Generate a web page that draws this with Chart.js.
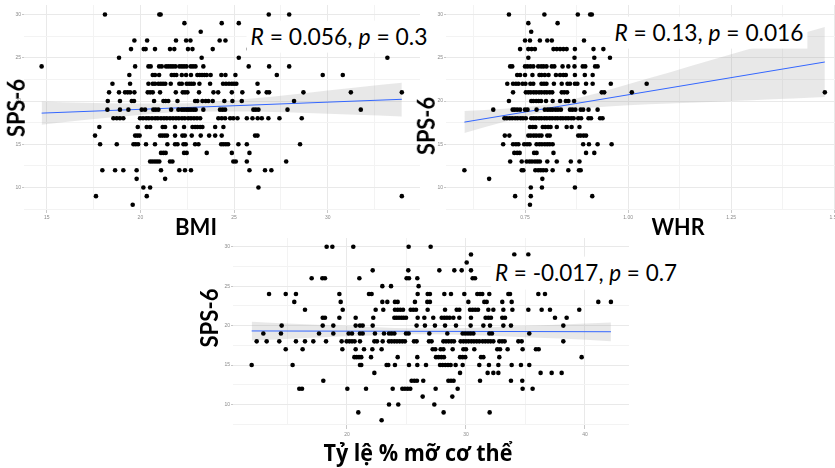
<!DOCTYPE html>
<html><head><meta charset="utf-8">
<script src="https://cdn.jsdelivr.net/npm/chart.js@4.4.1/dist/chart.umd.min.js"></script>
<style>
html,body{margin:0;padding:0;background:#fff;width:835px;height:468px;overflow:hidden;position:relative}
canvas{position:absolute}
.lbl{position:absolute;white-space:nowrap;line-height:1;color:#000}
.ax{font-family:Lato,"Open Sans",sans-serif;font-weight:700}
.vi{font-family:"Open Sans","Noto Sans",sans-serif;font-weight:700}
.rt{font-family:Lato,"Open Sans",sans-serif;font-weight:400;background:#fff;padding:5px 4px}
</style></head><body>
<canvas id="c1"></canvas>
<canvas id="c2"></canvas>
<canvas id="c3"></canvas>
<div class="lbl ax" id="s1"><span>SPS-6</span></div>
<div class="lbl ax" id="s2"><span>SPS-6</span></div>
<div class="lbl ax" id="s3"><span>SPS-6</span></div>
<div class="lbl ax" id="xb"><span>BMI</span></div>
<div class="lbl ax" id="xw"><span>WHR</span></div>
<div class="lbl vi" id="xf"><span>Tỷ lệ % mỡ cơ thể</span></div>
<div class="lbl rt" id="r1"><span><i>R</i> = 0.056, <i>p</i> = 0.3</span></div>
<div class="lbl rt" id="r2"><span><i>R</i> = 0.13, <i>p</i> = 0.016</span></div>
<div class="lbl rt" id="r3"><span><i>R</i> = -0.017, <i>p</i> = 0.7</span></div>
<script>
// SPS-6 score levels (y), one row of x values per level
const spsLevels = [30,29,28,27,26,25,24,23,22,21,20,19,18,17,16,15,14,13,12,11,10,9,8];

const bmiByLevel = [
 [18.11,21.01,21.08,26.85,27.94],
 [22.35,24.34,25.25],
 [23.22],
 [19.68,20.36,21.90,22.44,22.67,24.23,24.54],
 [19.50,20.18,20.28,20.78,21.58,21.81,22.54,22.78,23.86,25.77],
 [18.86,23.27,25.25,33.18],
 [14.73,19.72,20.43,20.55,21.00,21.14,21.37,21.49,21.62,21.74,21.87,22.08,22.21,22.33,22.46,22.69,22.81,22.94,23.36,25.78,26.87,27.94],
 [19.41,20.66,20.78,21.00,21.67,21.80,21.92,22.21,22.44,22.70,23.04,23.17,23.29,23.42,23.54,23.75,24.32,24.54,25.07,27.28,29.73,30.80],
 [18.51,19.45,20.43,20.66,20.78,20.96,21.09,21.21,21.33,21.62,22.08,22.21,22.47,22.60,22.72,22.85,23.15,23.72,24.41,24.57,24.73,24.88,25.00,25.12,26.25],
 [18.33,18.86,19.18,19.32,19.45,19.68,20.39,20.52,20.66,21.05,21.89,22.26,22.38,22.51,23.13,23.90,24.15,24.88,25.44,26.30,26.74,26.87,28.70,31.23,33.95],
 [18.26,18.91,19.54,19.66,20.73,21.23,21.35,21.49,21.98,22.92,23.04,23.31,23.49,23.63,23.86,24.48,24.91,25.41,28.20],
 [18.24,18.91,19.36,20.07,20.25,20.69,20.82,20.96,21.64,22.03,22.21,22.33,22.46,22.58,22.70,22.83,22.95,23.36,24.25,24.39,24.52,26.03,26.16,26.30,27.85,31.76],
 [18.56,18.74,18.91,19.09,19.98,20.14,20.31,20.45,20.62,20.79,20.93,21.10,21.26,21.41,21.58,21.74,21.90,22.05,22.22,22.37,22.55,22.70,22.86,23.02,23.19,24.16,24.34,24.52,24.79,24.96,25.18,25.68,25.98,26.26,26.48,26.83,27.42,28.61],
 [17.81,19.86,20.34,20.52,21.19,21.32,21.85,22.33,22.78,22.92,23.04,23.19,23.31,23.99,24.43],
 [17.58,19.72,19.84,19.96,21.05,21.17,21.30,21.42,21.85,22.24,22.37,22.74,23.22,23.67,23.99,24.34,26.12,26.25],
 [17.85,18.74,19.63,19.75,19.88,20.30,20.78,21.44,21.85,21.98,22.30,22.42,22.92,23.10,24.31,24.43,24.56,24.68,25.23,25.68,28.52],
 [21.10,21.23,21.35,22.33,22.47,23.54,24.88,25.82],
 [20.52,20.64,20.77,20.89,21.01,21.58,21.71,24.96,25.09,25.68,27.78],
 [17.97,18.65,19.09,19.80,21.10,22.08,22.38,22.70,25.82,26.65,26.99],
 [19.80,21.32],
 [20.16,20.52,26.30],
 [17.63,20.34,33.95],
 [19.59]
];

const whrByLevel = [
 [0.711,0.797,0.878,0.908,0.912],
 [0.758,0.829],
 [0.765],
 [0.750,0.762,0.786,0.804,0.815,0.893],
 [0.738,0.758,0.766,0.774,0.819,0.827,0.835,0.843,0.851,0.871,0.916,0.940],
 [0.758,0.870,0.918,0.956],
 [0.714,0.719,0.750,0.756,0.763,0.770,0.782,0.789,0.795,0.802,0.815,0.821,0.841,0.855,0.870,0.890,0.896,0.920,0.926],
 [0.731,0.738,0.750,0.768,0.785,0.790,0.798,0.807,0.825,0.835,0.843,0.849,0.871,0.895,0.914],
 [0.707,0.721,0.728,0.734,0.744,0.751,0.763,0.770,0.790,0.796,0.802,0.820,0.839,0.853,0.859,0.871,0.877,0.898,0.914,0.958,1.045],
 [0.721,0.752,0.758,0.764,0.771,0.777,0.784,0.790,0.797,0.803,0.810,0.816,0.839,0.845,0.852,0.894,0.936,0.942,1.009,1.477],
 [0.711,0.765,0.770,0.777,0.783,0.789,0.801,0.817,0.835,0.849,0.855,0.869],
 [0.673,0.720,0.725,0.731,0.738,0.750,0.756,0.778,0.798,0.805,0.811,0.817,0.824,0.830,0.837,0.859,0.865,0.872,0.885,0.891,0.904,0.926],
 [0.700,0.706,0.713,0.719,0.726,0.732,0.739,0.745,0.752,0.765,0.771,0.777,0.784,0.790,0.797,0.803,0.810,0.816,0.823,0.829,0.836,0.842,0.849,0.855,0.862,0.868,0.879,0.886,0.904,0.910,0.932,0.938],
 [0.762,0.769,0.775,0.793,0.799,0.806,0.812,0.827,0.851,0.863,0.882],
 [0.701,0.712,0.758,0.764,0.771,0.777,0.784,0.790,0.804,0.810,0.879,0.885,0.892,0.898],
 [0.697,0.721,0.728,0.734,0.748,0.755,0.761,0.778,0.785,0.791,0.798,0.804,0.810,0.817,0.891,0.905,0.926,0.960],
 [0.724,0.731,0.737,0.772,0.778,0.819,0.898,0.918],
 [0.714,0.742,0.754,0.761,0.767,0.774,0.780,0.786,0.804,0.827,0.861,0.882],
 [0.603,0.742,0.746,0.775,0.782,0.788,0.794,0.801,0.817,0.855,0.881,0.885],
 [0.663,0.792],
 [0.764,0.791,0.871],
 [0.726,0.764,0.913],
 [0.762]
];

const fatByLevel = [
 [18.29,18.77,20.53,25.18,27.03],
 [30.42,34.06,35.24],
 [30.06],
 [22.16,25.15,27.76,29.02,29.64,30.42],
 [17.03,17.93,18.15,21.04,25.01,25.21,25.91,30.56,30.76],
 [22.97,23.70,26.02],
 [13.45,14.85,15.71,19.36,21.85,22.07,25.94,26.78,26.97,28.18,28.74,29.86,30.95,31.18,31.37,31.96,33.56,33.70,36.08,36.64],
 [15.57,19.47,22.97,23.39,24.03,24.26,25.71,26.75,26.97,30.20,31.54,31.74,33.05,33.84,41.12,42.18],
 [16.47,19.64,22.41,23.05,24.03,24.26,24.48,24.71,25.35,25.57,25.80,26.78,28.24,29.22,29.44,30.34,30.56,30.78,31.01,31.88,32.30,33.14,33.90,35.24,36.36,37.06,39.52],
 [17.96,18.15,19.36,20.73,22.21,23.98,24.17,24.37,24.57,24.76,24.96,25.94,26.50,27.25,27.96,28.18,28.40,28.63,28.94,29.44,30.42,31.65,31.88,32.10,33.05,33.28,37.48,38.46],
 [14.51,17.96,18.85,20.73,21.09,21.32,22.16,25.85,26.55,27.39,28.24,29.16,30.39,31.46,32.02,33.14,33.78,38.18],
 [12.97,14.45,17.65,18.85,20.14,20.42,21.09,21.32,22.35,23.11,23.53,23.75,23.98,24.96,25.18,26.92,28.43,29.72,29.94,30.17,30.39,30.62,31.96,32.18,35.32],
 [12.41,13.25,14.31,15.71,16.47,17.17,18.24,19.55,19.97,20.20,20.42,20.64,21.09,22.30,22.52,23.00,23.53,23.75,23.98,24.20,24.43,24.65,24.87,25.63,25.85,26.89,27.11,28.10,28.32,28.54,28.77,28.99,29.55,29.78,30.00,30.22,30.45,30.67,30.90,31.12,31.40,31.62,31.85,32.07,32.30,32.80,33.03,33.25,34.40,34.68,38.18],
 [14.85,16.27,19.61,20.73,21.43,22.13,22.91,27.20,27.42,27.87,28.10,28.88,29.78,30.00,30.70,32.63,32.86,33.50,34.76,35.88,36.11],
 [20.62,20.81,21.01,21.20,22.02,24.26,25.91,27.48,27.70,27.93,28.15,29.50,29.72,29.94,31.26,31.46,32.80,39.72],
 [11.99,15.43,21.09,21.20,23.33,23.47,24.03,25.21,25.91,26.64,27.82,28.04,28.26,28.49,28.71,29.13,29.72,31.12,31.93,32.72,33.84,34.62,35.32],
 [22.30,29.50,31.82,32.30,32.72,36.27,37.20,38.04],
 [18.01,25.43,25.66,25.88,26.41,28.52,28.74,28.96,31.18,33.78,34.73],
 [15.99,16.22,20.03,21.60,23.84,24.65,24.87,25.10,25.32,27.45,29.30,34.76,35.60],
 [26.36,28.85],
 [23.53,24.31,27.34],
 [20.95,28.12,31.99],
 [22.91]
];

// regression lines
const bmiFitX = [14.73, 33.95];   const bmiFitY = [18.60, 20.20];
const whrFitX = [0.603, 1.477];   const whrFitY = [17.56, 24.51];
const fatFitX = [11.99, 42.18];   const fatFitY = [19.32, 19.22];

// confidence bands
const bmiBandX  = [14.73, 17, 19.5, 22.5, 25.5, 28.5, 31.5, 33.95];
const bmiBandLo = [17.25, 17.8, 18.3, 18.75, 18.8, 18.65, 18.4, 18.2];
const bmiBandHi = [19.95, 19.8, 19.7, 19.75, 20.2, 20.85, 21.55, 22.1];
const whrBandX  = [0.603, 0.70, 0.805, 0.90, 1.00, 1.10, 1.20, 1.30, 1.40, 1.477];
const whrBandLo = [16.3, 17.6, 18.8, 19.2, 19.5, 19.7, 19.9, 20.1, 20.3, 20.45];
const whrBandHi = [18.85, 19.1, 19.6, 20.6, 21.95, 23.3, 24.7, 26.1, 27.5, 28.55];
const fatBandX  = [11.99, 16, 20, 24, 27, 30, 34, 38, 42.18];
const fatBandLo = [18.1, 18.4, 18.65, 18.85, 18.9, 18.8, 18.6, 18.35, 18.0];
const fatBandHi = [20.5, 20.2, 19.95, 19.7, 19.65, 19.7, 19.9, 20.15, 20.4];

// tick values
const yMajor = [10,15,20,25,30];           const yMinor = [7.5,12.5,17.5,22.5,27.5];
const bmiMajor = [15,20,25,30];            const bmiMinor = [17.5,22.5,27.5,32.5];
const whrMajor = [0.75,1.00,1.25,1.50];    const whrMinor = [0.625,0.875,1.125,1.375];
const fatMajor = [20,30,40];               const fatMinor = [15,25,35];

function rowsToPoints(xs){ return spsLevels.flatMap((s,i)=>xs[i].map(x=>({x:x,y:s}))); }
function xy(xs,ys){ return xs.map((x,i)=>({x:x,y:ys[i]})); }

function axisOpts(range, major, minor, fmt, tickLen, pad, isX, size){
  const all = major.concat(minor).sort((a,b)=>a-b);
  const isMaj = v => major.some(m=>Math.abs(m-v)<1e-9);
  return {
    type:'linear', min:range[0], max:range[1],
    afterBuildTicks: s => { s.ticks = all.map(v=>({value:v})); },
    afterFit: s => { if(isX) s.height = size; else s.width = size; },
    ticks:{ autoSkip:false, maxRotation:0, minRotation:0, padding:pad,
      font:{size:5, family:'"Liberation Sans", Arial, sans-serif'}, color:'#8a8a8a',
      callback: v => isMaj(v) ? fmt(v) : '' },
    grid:{ drawTicks:true, tickLength:tickLen,
      color: c => (c.tick && isMaj(c.tick.value)) ? '#e9e9e9' : '#f3f3f3',
      tickColor: c => (c.tick && isMaj(c.tick.value)) ? '#c8c8c8' : 'rgba(0,0,0,0)',
      lineWidth:1 },
    border:{display:false}
  };
}

function panel(id, area, xr, xMaj, xMin, xfmt, pts, fX, fY, bX, bLo, bHi, xTickLen, xPad){
  const WY = 30, PAD = 8, HX = 18;
  const cv = document.getElementById(id);
  const cw = Math.ceil(WY + area.w + PAD), ch = Math.ceil(PAD + area.h + HX);
  cv.width = cw; cv.height = ch;
  cv.style.width = cw + 'px'; cv.style.height = ch + 'px';
  cv.style.left = (area.x - WY) + 'px'; cv.style.top = (area.y - PAD) + 'px';
  new Chart(cv, {
    type:'scatter',
    data:{ datasets:[
      { data:pts, pointRadius:2.3, pointBackgroundColor:'#000', pointBorderWidth:0, showLine:false, order:1 },
      { data:xy(fX,fY), showLine:true, borderColor:'#3366FF', borderWidth:1, pointRadius:0, fill:false, order:2 },
      { data:xy(bX,bLo), showLine:true, borderWidth:0, borderColor:'rgba(0,0,0,0)', pointRadius:0, fill:false, cubicInterpolationMode:'monotone', order:3 },
      { data:xy(bX,bHi), showLine:true, borderWidth:0, borderColor:'rgba(0,0,0,0)', pointRadius:0, fill:'-1', backgroundColor:'rgba(150,150,150,0.22)', cubicInterpolationMode:'monotone', order:3 }
    ]},
    options:{
      responsive:false, animation:false, devicePixelRatio:1, events:[],
      layout:{ padding:{ top:PAD, left:0, right:cw - WY - area.w, bottom:ch - PAD - area.h - HX } },
      plugins:{ legend:{display:false}, tooltip:{enabled:false} },
      scales:{
        x: axisOpts(xr, xMaj, xMin, xfmt, xTickLen, xPad, true, HX),
        y: axisOpts([7.4, 31.1], yMajor, yMinor, v=>String(v), 2, 1, false, WY)
      }
    }
  });
}

panel('c1', {x:24, y:5, w:396, h:205}, [13.79, 34.92], bmiMajor, bmiMinor, v=>String(v),
      rowsToPoints(bmiByLevel), bmiFitX, bmiFitY, bmiBandX, bmiBandLo, bmiBandHi, 3, 2);
panel('c2', {x:446, y:5, w:396, h:205}, [0.5584, 1.5186], whrMajor, whrMinor, v=>v.toFixed(2),
      rowsToPoints(whrByLevel), whrFitX, whrFitY, whrBandX, whrBandLo, whrBandHi, 3, 2);
panel('c3', {x:233, y:238, w:396, h:187}, [10.42, 43.70], fatMajor, fatMinor, v=>String(v),
      rowsToPoints(fatByLevel), fatFitX, fatFitY, fatBandX, fatBandLo, fatBandHi, 4, 3);

// text sized by cap height, then squeezed horizontally to the measured width
function place(id, w, cx, cy, rot, capH){
  const el = document.getElementById(id), sp = el.firstElementChild;
  const fs = capH / 0.716;
  el.style.fontSize = fs + 'px';
  const m = sp.getBoundingClientRect().width;
  const s = w / m;
  el.style.left = cx + 'px'; el.style.top = cy + 'px';
  el.style.transform = 'translate(-50%,-50%)' + (rot ? ' rotate(-90deg)' : '') + ' scale(' + s + ',1)';
}
place('s1', 58, 16, 107.5, true, 17.5);
place('s2', 58, 426, 126, true, 17.5);
place('s3', 59, 208.5, 317.5, true, 17.5);
place('xb', 42, 196, 226.5, false, 17);
place('xw', 53, 678, 226.5, false, 17);
place('xf', 189, 417.5, 453, false, 16);
place('r1', 177, 338.5, 36.7, false, 16.3);
place('r2', 189, 708.5, 32.5, false, 16.3);
place('r3', 182, 586, 273.3, false, 16.3);
</script>
</body></html>
